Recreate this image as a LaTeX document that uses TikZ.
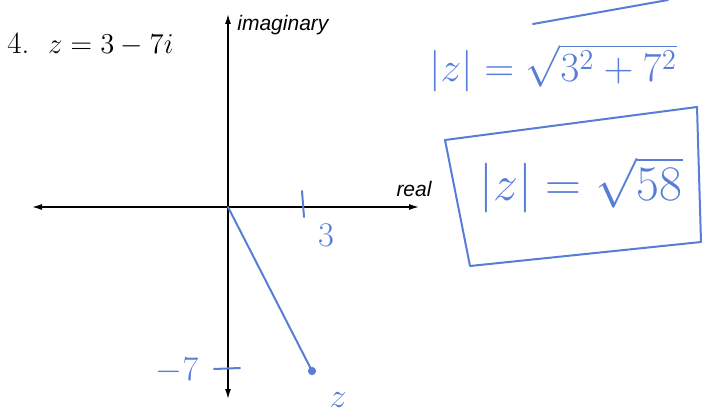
\documentclass[tikz,border=0pt]{standalone}
\usepackage{fontspec}
\usepackage{xcolor}
\usetikzlibrary{arrows.meta,positioning}
\newfontfamily\labelfont{Liberation Sans}
\definecolor{ink}{RGB}{88,125,215}

\begin{document}
\begin{tikzpicture}[
    x=0.5pt,y=-0.5pt,
    axis/.style={{Latex[length=5pt,width=3pt]}-{Latex[length=5pt,width=3pt]},line width=0.7pt,draw=black},
    pen/.style={draw=ink,line width=1pt,line cap=round,line join=round},
    hand/.style={text=ink,inner sep=0pt},
    axlabel/.style={font=\labelfont\itshape\fontsize{10.5}{12}\selectfont,inner sep=0pt}
  ]
    \useasboundingbox (0,0) rectangle (705,417);
    % axes
    \coordinate (o) at (228,207);
    \coordinate (xl) at (32,207);
    \coordinate (xr) at (419,207);
    \coordinate (yt) at (228,14);
    \coordinate (yb) at (228,399);
    \draw[axis] (xl) -- (xr);
    \draw[axis] (yb) -- (yt);
    \node[axlabel,anchor=west] (imag) at (237,25) {imaginary};
    \node[axlabel] (real) at (414,189) {real};
    \node[anchor=west,inner sep=0pt,font=\fontsize{15.5}{18}\selectfont] (prob) at (7,44) {4.\ \ $z = 3 - 7i$};
    % ticks and point
    \draw[pen] (302,191) -- (304,217);
    \node[hand,font=\fontsize{18}{20}\selectfont] (three) at (326,235) {$3$};
    \draw[pen] (214,369) -- (240,368);
    \node[hand,font=\fontsize{18}{20}\selectfont] (mseven) at (177,371) {$-7$};
    \node[circle,draw=ink,fill=ink,inner sep=1.3pt] (zpt) at (312,371) {};
    \draw[pen] (o) -- (zpt);
    \node[hand,font=\fontsize{18}{20}\selectfont] (zlab) at (338,400) {$z$};
    % working
    \node[hand,font=\fontsize{20}{24}\selectfont] (eq1) at (553,68) {$|z| = \sqrt{3^2+7^2}$};
    \node[hand,font=\fontsize{26}{30}\selectfont] (eq2) at (581,185) {$|z| = \sqrt{58}$};
    \draw[pen] (445,140) -- (697,107) -- (701,242) -- (470,266) -- cycle;
    \draw[pen] (533,24) .. controls (600,12) .. (668,0);
  \end{tikzpicture}
\end{document}
